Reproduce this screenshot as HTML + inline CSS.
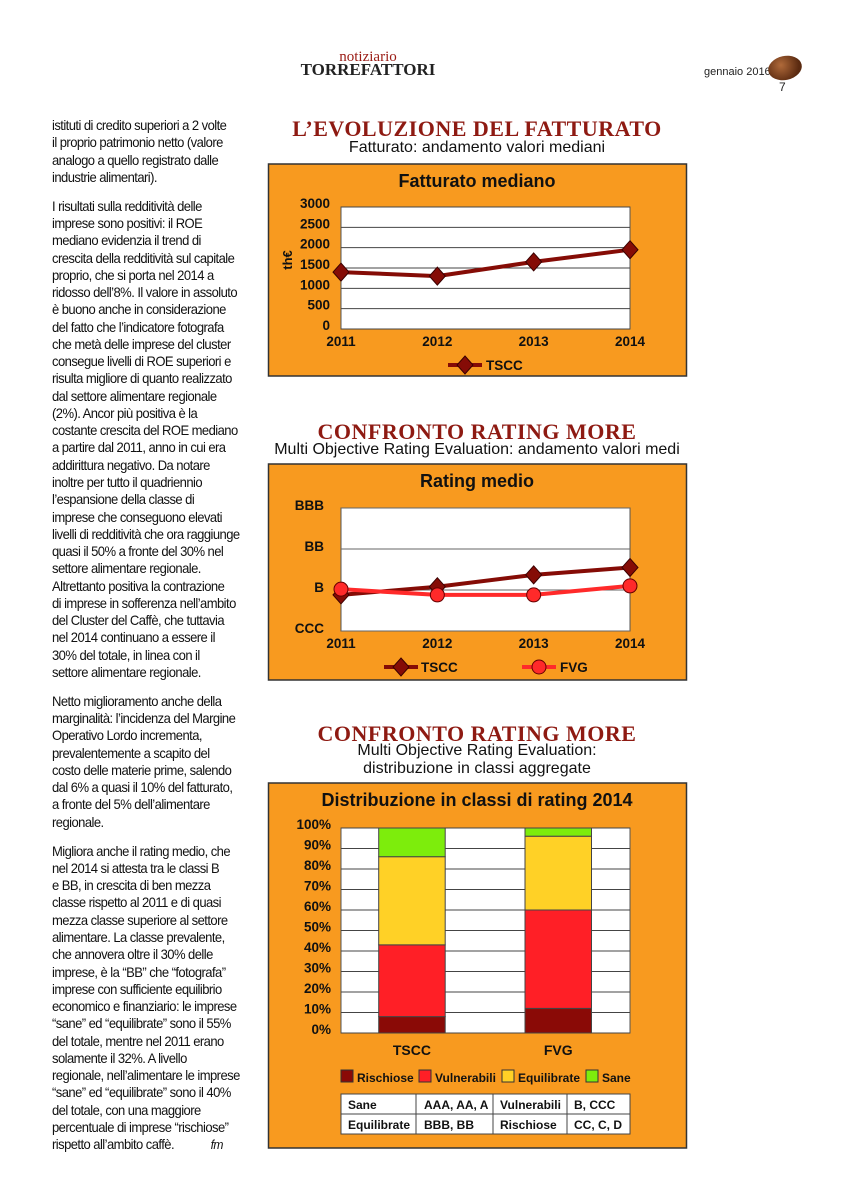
<!DOCTYPE html>
<html><head><meta charset="utf-8">
<style>
body{margin:0;width:855px;height:1200px;background:#fff;position:relative;overflow:hidden;font-family:"Liberation Sans",sans-serif}
.col{position:absolute;left:52px;width:250px;font-size:14px;line-height:17.26px;color:#111;transform:scaleX(0.93);transform-origin:0 0;white-space:nowrap;letter-spacing:-0.6px}
.col p{margin:0 0 11.7px 0}
.h{position:absolute;text-align:center;white-space:nowrap}
.big{font-family:"Liberation Serif",serif;font-weight:bold;color:#8e1a12;font-size:22px;letter-spacing:0.5px}
.sub{font-size:16px;color:#111}
svg text{font-family:"Liberation Sans",sans-serif}
</style></head><body>
<div class="h" style="left:318px;top:49px;width:100px;font-family:'Liberation Serif',serif;color:#9a1b14;font-size:15px">notiziario</div>
<div class="h" style="left:298px;top:60px;width:140px;font-family:'Liberation Serif',serif;font-size:17px;font-weight:bold;color:#222">TORREFATTORI</div>
<div class="h" style="left:704px;top:66px;font-size:11px;color:#222">gennaio 2016</div>
<div style="position:absolute;left:768px;top:56px;width:34px;height:24px;border-radius:50%;background:radial-gradient(circle at 40% 35%,#b06a3a,#5a2a10 70%);transform:rotate(-12deg)"></div>
<div class="h" style="left:779px;top:80px;font-size:12px;color:#222">7</div>

<div class="col" style="top:117px">
<p>istituti di credito superiori a 2 volte<br>il proprio patrimonio netto (valore<br>analogo a quello registrato dalle<br>industrie alimentari).</p>
<p>I risultati sulla redditività delle<br>imprese sono positivi: il ROE<br>mediano evidenzia il trend di<br>crescita della redditività sul capitale<br>proprio, che si porta nel 2014 a<br>ridosso dell’8%. Il valore in assoluto<br>è buono anche in considerazione<br>del fatto che l’indicatore fotografa<br>che metà delle imprese del cluster<br>consegue livelli di ROE superiori e<br>risulta migliore di quanto realizzato<br>dal settore alimentare regionale<br>(2%). Ancor più positiva è la<br>costante crescita del ROE mediano<br>a partire dal 2011, anno in cui era<br>addirittura negativo. Da notare<br>inoltre per tutto il quadriennio<br>l’espansione della classe di<br>imprese che conseguono elevati<br>livelli di redditività che ora raggiunge<br>quasi il 50% a fronte del 30% nel<br>settore alimentare regionale.<br>Altrettanto positiva la contrazione<br>di imprese in sofferenza nell’ambito<br>del Cluster del Caffè, che tuttavia<br>nel 2014 continuano a essere il<br>30% del totale, in linea con il<br>settore alimentare regionale.</p>
<p>Netto miglioramento anche della<br>marginalità: l’incidenza del Margine<br>Operativo Lordo  incrementa,<br>prevalentemente a scapito del<br>costo delle materie prime, salendo<br>dal 6% a quasi il 10% del fatturato,<br>a fronte del 5% dell’alimentare<br>regionale.</p>
<p>Migliora anche il rating medio, che<br>nel 2014 si attesta tra le classi B<br>e BB, in crescita di ben mezza<br>classe rispetto al 2011 e di quasi<br>mezza classe superiore al settore<br>alimentare. La classe prevalente,<br>che annovera oltre il 30% delle<br>imprese, è la “BB” che “fotografa”<br>imprese con sufficiente equilibrio<br>economico e finanziario: le imprese<br>“sane” ed “equilibrate” sono il 55%<br>del totale, mentre nel 2011 erano<br>solamente il 32%. A livello<br>regionale, nell’alimentare le imprese<br>“sane” ed “equilibrate” sono il 40%<br>del totale, con una maggiore<br>percentuale di imprese “rischiose”<br>rispetto all’ambito caffè. <i style="font-size:13px;margin-left:36px">fm</i></p>
</div>

<div class="h big" style="left:277px;top:116px;width:400px">L’EVOLUZIONE DEL FATTURATO</div>
<div class="h sub" style="left:277px;top:139px;width:400px">Fatturato: andamento valori mediani</div>
<div class="h big" style="left:277px;top:419px;width:400px">CONFRONTO RATING MORE</div>
<div class="h sub" style="left:262px;top:441px;width:430px">Multi Objective Rating Evaluation: andamento valori medi</div>
<div class="h big" style="left:277px;top:721px;width:400px">CONFRONTO RATING MORE</div>
<div class="h sub" style="left:277px;top:742px;width:400px;line-height:18px">Multi Objective Rating Evaluation:<br>distribuzione in classi aggregate</div>

<svg id="svg" width="855" height="1200" style="position:absolute;left:0;top:0" xmlns="http://www.w3.org/2000/svg"></svg>
<script>
const years=["2011","2012","2013","2014"];
const fattTicks=[0,500,1000,1500,2000,2500,3000];
const fattTSCC=[1400,1300,1650,1950];
const ratingTicks=["CCC","B","BB","BBB"];
const ratingTSCC=[0.88,1.08,1.37,1.55];
const ratingFVG=[1.02,0.88,0.88,1.1];
const distCats=["TSCC","FVG"];
const distSeries=["Rischiose","Vulnerabili","Equilibrate","Sane"];
const distRischiose=[8,12];
const distVulnerabili=[35,48];
const distEquilibrate=[43,36];
const distSane=[14,4];
const distTicks=[0,10,20,30,40,50,60,70,80,90,100];

const S=document.getElementById('svg');const NS="http://www.w3.org/2000/svg";
function el(t,a,p){const e=document.createElementNS(NS,t);for(const k in a)e.setAttribute(k,a[k]);(p||S).appendChild(e);return e}
function tx(x,y,s,size,anchor,p){const e=el('text',{x:x,y:y,'font-size':size,'font-weight':'bold','text-anchor':anchor||'middle',fill:'#111'},p);e.textContent=s;return e}
const ORANGE="#f89a1f",DR="#850c06",RED="#ff2a2a";
function frame(y,h,name,title){const g=el('g',{});
 el('rect',{x:268.5,y:y,width:418,height:h,fill:ORANGE,stroke:'#333','stroke-width':1.5},g);
 const t=tx(477,y+23,title,18,'middle',g);return g}
const X0=341,X1=630;
function xCat(i){return X0+i*(X1-X0)/3}
function diamond(x,y,g){const d=el('path',{d:`M${x} ${y-9}L${x+8} ${y}L${x} ${y+9}L${x-8} ${y}Z`,fill:DR,stroke:'#3a0000','stroke-width':1},g);}
function circ(x,y,g){const c=el('circle',{cx:x,cy:y,r:7,fill:RED,stroke:'#600','stroke-width':1},g);}
function series(xs,ys,col,g,mk,name){const pl=el('polyline',{points:xs.map((x,i)=>x+','+ys[i]).join(' '),fill:'none',stroke:col,'stroke-width':4,'stroke-linejoin':'round'},g);xs.forEach((x,i)=>mk(x,ys[i],g))}

// Chart 1
(function(){const g=frame(164,212,'fatturato-chart','Fatturato mediano');
 const T=207,B=329;const y=v=>B-(v/3000)*(B-T);
 el('rect',{x:X0,y:T,width:X1-X0,height:B-T,fill:'#fff',stroke:'#555','stroke-width':1},g);
 fattTicks.forEach(v=>{el('line',{x1:X0,x2:X1,y1:y(v),y2:y(v),stroke:'#444','stroke-width':1},g);tx(330,y(v)+1,String(v),13.5,'end',g)});
 const yl=tx(0,0,'th€',13,'middle',g);yl.setAttribute('transform','translate(292,260) rotate(-90)');
 years.forEach((s,i)=>tx(xCat(i),346,s,13.5,'middle',g));
 series(years.map((s,i)=>xCat(i)),fattTSCC.map(y),DR,g,diamond,'tscc-line');
 const lg=el('g',{},g);
 el('line',{x1:448,x2:482,y1:365,y2:365,stroke:DR,'stroke-width':4},lg);diamond(465,365,lg);tx(486,370,'TSCC',13.5,'start',lg);
})();
// Chart 2
(function(){const g=frame(464,216,'rating-chart','Rating medio');
 const T=508,B=631;const y=v=>B-(v/3)*(B-T);
 el('rect',{x:X0,y:T,width:X1-X0,height:B-T,fill:'#fff',stroke:'#555','stroke-width':1},g);
 ratingTicks.forEach((s,i)=>{el('line',{x1:X0,x2:X1,y1:y(i),y2:y(i),stroke:'#666','stroke-width':1},g);tx(324,y(i)+2,s,13.5,'end',g)});
 years.forEach((s,i)=>tx(xCat(i),648,s,13.5,'middle',g));
 const xs=years.map((s,i)=>xCat(i));
 series(xs,ratingTSCC.map(y),DR,g,diamond,'tscc-line');
 series(xs,ratingFVG.map(y),RED,g,circ,'fvg-line');
 const l1=el('g',{},g);
 el('line',{x1:384,x2:418,y1:667,y2:667,stroke:DR,'stroke-width':4},l1);diamond(401,667,l1);tx(421,672,'TSCC',13.5,'start',l1);
 const l2=el('g',{},g);
 el('line',{x1:522,x2:556,y1:667,y2:667,stroke:RED,'stroke-width':4},l2);circ(539,667,l2);tx(560,672,'FVG',13.5,'start',l2);
})();
// Chart 3
(function(){const g=frame(783,365,'distribution-chart','Distribuzione in classi di rating 2014');
 const T=828,B=1033;const y=v=>B-(v/100)*(B-T);
 el('rect',{x:X0,y:T,width:X1-X0,height:B-T,fill:'#fff',stroke:'#555','stroke-width':1},g);
 distTicks.forEach(v=>{el('line',{x1:X0,x2:X1,y1:y(v),y2:y(v),stroke:'#444','stroke-width':1},g);tx(331,y(v)+1,v+'%',13.5,'end',g)});
 const cols=["#8a0a06","#ff1f26","#ffd126","#7ded0c"];
 const data=[distRischiose,distVulnerabili,distEquilibrate,distSane];
 const bx=[378.7,525],bw=66.5;
 distCats.forEach((c,ci)=>{let acc=0;data.forEach((arr,si)=>{const v=arr[ci];const r=el('rect',{x:bx[ci],y:y(acc+v),width:bw,height:y(acc)-y(acc+v),fill:cols[si],stroke:'#444','stroke-width':1},g);
   acc+=v});
   tx(bx[ci]+bw/2,1055,c,14,'middle',g)});
 const lx=[341,419,502,586];
 distSeries.forEach((s,i)=>{const lg=el('g',{},g);
   el('rect',{x:lx[i],y:1070,width:12,height:12,fill:cols[i],stroke:'#333','stroke-width':1},lg);tx(lx[i]+16,1082,s,12,'start',lg)});
 const tb=el('g',{},g);
 el('rect',{x:341,y:1094,width:289,height:40,fill:'#fff',stroke:'#444','stroke-width':1},tb);
 el('line',{x1:341,x2:630,y1:1114,y2:1114,stroke:'#444'},tb);
 [416,493,567].forEach(x=>el('line',{x1:x,x2:x,y1:1094,y2:1134,stroke:'#444'},tb));
 const cells=[["Sane","AAA, AA, A","Vulnerabili","B, CCC"],["Equilibrate","BBB, BB","Rischiose","CC, C, D"]];
 const cx=[348,424,500,574];
 cells.forEach((r,ri)=>r.forEach((s,ci)=>tx(cx[ci],1109+ri*20,s,12,'start',tb)));
})();
</script>
</body></html>
